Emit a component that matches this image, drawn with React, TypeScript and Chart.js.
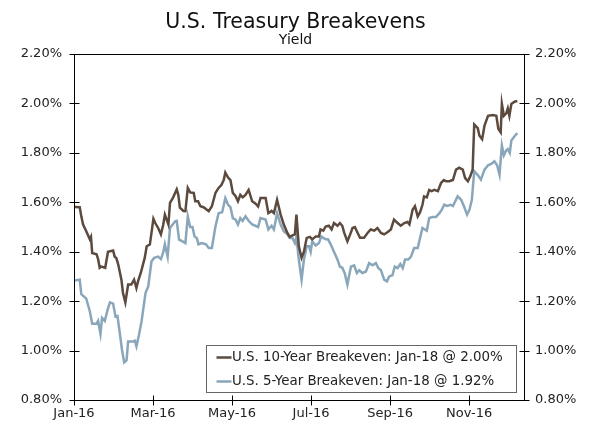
import { useEffect, useRef } from "react";
import { Chart, registerables } from "chart.js";

Chart.register(...registerables);

const chartTitle = "U.S. Treasury Breakevens";
const chartSubtitle = "Yield";
const seriesNames = [
  "U.S. 10-Year Breakeven: Jan-18 @ 2.00%",
  "U.S. 5-Year Breakeven: Jan-18 @ 1.92%",
];
const seriesColors = ["#5b4a3d", "#89a6ba"];

// x positions are months elapsed since Jan-16
const xTickValues = [0, 2, 4, 6, 8, 10];
const xTickLabels = ["Jan-16", "Mar-16", "May-16", "Jul-16", "Sep-16", "Nov-16"];
const yTickValues = [0.8, 1.0, 1.2, 1.4, 1.6, 1.8, 2.0, 2.2];

const tenYearX = [
  0.02, 0.145, 0.185, 0.23, 0.31, 0.4, 0.43, 0.46, 0.57, 0.61, 0.65, 0.69, 0.79, 0.86, 0.99, 1.03, 1.07, 1.12,
  1.2, 1.24, 1.3, 1.37, 1.45, 1.52, 1.58, 1.62, 1.69, 1.79, 1.84, 1.92, 2.01, 2.06, 2.13, 2.2, 2.26, 2.3, 2.39,
  2.43, 2.51, 2.6, 2.64, 2.68, 2.77, 2.82, 2.88, 2.94, 3.03, 3.07, 3.14, 3.2, 3.28, 3.41, 3.49, 3.58, 3.66,
  3.73, 3.79, 3.83, 3.9, 3.96, 4.02, 4.09, 4.15, 4.21, 4.27, 4.34, 4.42, 4.51, 4.59, 4.66, 4.72, 4.85, 4.92,
  5.0, 5.06, 5.14, 5.23, 5.31, 5.4, 5.46, 5.53, 5.59, 5.63, 5.69, 5.76, 5.82, 5.89, 5.97, 6.03, 6.12, 6.2,
  6.24, 6.31, 6.37, 6.45, 6.52, 6.58, 6.67, 6.73, 6.79, 6.84, 6.92, 6.99, 7.05, 7.11, 7.18, 7.24, 7.34, 7.43,
  7.51, 7.6, 7.68, 7.77, 7.85, 7.94, 8.02, 8.1, 8.19, 8.27, 8.36, 8.44, 8.49, 8.57, 8.63, 8.7, 8.76, 8.82,
  8.86, 8.93, 8.99, 9.05, 9.12, 9.21, 9.29, 9.36, 9.42, 9.5, 9.59, 9.67, 9.75, 9.84, 9.9, 9.97, 10.03, 10.09,
  10.13, 10.22, 10.26, 10.33, 10.39, 10.48, 10.6, 10.69, 10.74, 10.8, 10.83, 10.88, 10.94, 10.98, 11.02,
  11.07, 11.15, 11.22,
];
const tenYearY = [
  1.581, 1.58, 1.543, 1.51, 1.483, 1.45, 1.46, 1.395, 1.39, 1.37, 1.335, 1.34, 1.335, 1.4, 1.405, 1.38, 1.375,
  1.348, 1.287, 1.233, 1.195, 1.267, 1.267, 1.287, 1.253, 1.28, 1.314, 1.375, 1.422, 1.429, 1.533, 1.515,
  1.496, 1.47, 1.51, 1.55, 1.51, 1.598, 1.62, 1.652, 1.63, 1.578, 1.565, 1.564, 1.658, 1.64, 1.638, 1.604,
  1.604, 1.584, 1.58, 1.564, 1.584, 1.638, 1.658, 1.67, 1.69, 1.72, 1.7, 1.69, 1.638, 1.625, 1.604, 1.63,
  1.62, 1.63, 1.65, 1.604, 1.595, 1.583, 1.617, 1.617, 1.556, 1.565, 1.556, 1.61, 1.55, 1.51, 1.476, 1.46,
  1.466, 1.47, 1.55, 1.422, 1.375, 1.4, 1.456, 1.46, 1.45, 1.462, 1.462, 1.49, 1.485, 1.502, 1.505, 1.49,
  1.516, 1.505, 1.516, 1.505, 1.476, 1.442, 1.47, 1.496, 1.5, 1.476, 1.456, 1.456, 1.476, 1.49, 1.485, 1.496,
  1.476, 1.47, 1.48, 1.49, 1.53, 1.516, 1.505, 1.516, 1.52, 1.51, 1.57, 1.584, 1.543, 1.56, 1.59, 1.624,
  1.62, 1.65, 1.645, 1.65, 1.645, 1.678, 1.69, 1.685, 1.685, 1.69, 1.732, 1.74, 1.732, 1.698, 1.685, 1.705,
  1.732, 1.915, 1.9, 1.87, 1.855, 1.91, 1.95, 1.953, 1.95, 1.897, 1.883, 1.998, 1.95, 1.96, 1.98, 1.95, 1.998,
  2.007, 2.01,
];

const fiveYearX = [
  0.02, 0.145, 0.185, 0.31, 0.4, 0.46, 0.57, 0.61, 0.67, 0.71, 0.78, 0.85, 0.91, 0.99, 1.05, 1.1, 1.16, 1.22,
  1.27, 1.33, 1.37, 1.5, 1.54, 1.58, 1.64, 1.71, 1.81, 1.88, 1.96, 2.03, 2.13, 2.2, 2.26, 2.3, 2.37, 2.43,
  2.56, 2.6, 2.66, 2.77, 2.82, 2.88, 2.94, 3.0, 3.05, 3.11, 3.15, 3.24, 3.34, 3.41, 3.49, 3.58, 3.66, 3.75,
  3.83, 3.9, 3.96, 4.02, 4.09, 4.15, 4.21, 4.27, 4.34, 4.42, 4.51, 4.59, 4.66, 4.72, 4.85, 4.92, 5.0, 5.06,
  5.14, 5.23, 5.31, 5.4, 5.46, 5.53, 5.59, 5.63, 5.69, 5.76, 5.82, 5.89, 5.95, 5.99, 6.03, 6.12, 6.2, 6.26,
  6.32, 6.37, 6.43, 6.5, 6.58, 6.67, 6.73, 6.79, 6.85, 6.92, 7.01, 7.09, 7.16, 7.22, 7.3, 7.39, 7.47, 7.56,
  7.64, 7.7, 7.77, 7.85, 7.92, 7.98, 8.06, 8.12, 8.19, 8.26, 8.32, 8.38, 8.46, 8.53, 8.61, 8.7, 8.76, 8.82,
  8.88, 8.93, 8.99, 9.08, 9.16, 9.25, 9.31, 9.37, 9.44, 9.53, 9.59, 9.71, 9.8, 9.88, 9.95, 10.01, 10.07,
  10.13, 10.22, 10.3, 10.39, 10.48, 10.56, 10.64, 10.71, 10.77, 10.83, 10.88, 10.94, 10.98, 11.03, 11.07,
  11.15, 11.22,
];
const fiveYearY = [
  1.284, 1.287, 1.228, 1.21, 1.159, 1.109, 1.109, 1.12, 1.068, 1.132, 1.12, 1.165, 1.195, 1.19, 1.138, 1.14,
  1.07, 0.997, 0.952, 0.96, 1.037, 1.037, 1.04, 1.017, 1.06, 1.118, 1.233, 1.26, 1.36, 1.375, 1.38, 1.37,
  1.398, 1.43, 1.38, 1.496, 1.523, 1.525, 1.449, 1.44, 1.435, 1.543, 1.5, 1.5, 1.462, 1.455, 1.43, 1.435,
  1.43, 1.415, 1.415, 1.502, 1.556, 1.56, 1.617, 1.59, 1.58, 1.536, 1.53, 1.51, 1.536, 1.525, 1.543, 1.525,
  1.51, 1.505, 1.5, 1.536, 1.53, 1.49, 1.505, 1.49, 1.556, 1.51, 1.483, 1.47, 1.455, 1.455, 1.435, 1.46,
  1.368, 1.287, 1.368, 1.422, 1.422, 1.4, 1.442, 1.425, 1.435, 1.462, 1.455, 1.45, 1.45, 1.429, 1.4, 1.368,
  1.34, 1.335, 1.314, 1.267, 1.34, 1.345, 1.314, 1.325, 1.314, 1.32, 1.354, 1.345, 1.354, 1.334, 1.325,
  1.287, 1.28, 1.3, 1.305, 1.34, 1.334, 1.35, 1.334, 1.368, 1.368, 1.38, 1.415, 1.415, 1.456, 1.496, 1.49,
  1.485, 1.536, 1.54, 1.54, 1.556, 1.57, 1.59, 1.585, 1.59, 1.585, 1.624, 1.61, 1.58, 1.55, 1.57, 1.61,
  1.726, 1.71, 1.692, 1.732, 1.75, 1.755, 1.766, 1.75, 1.712, 1.83, 1.79, 1.81, 1.815, 1.8, 1.85, 1.867,
  1.88,
];

const xMax = 11.39;
const FONT = '"DejaVu Sans", Verdana, sans-serif';

const toPoints = (xs: number[], ys: number[]) => xs.map((x, i) => ({ x, y: ys[i] }));

const decorPlugin = {
  id: "decor",
  beforeDraw(chart: any) {
    const { ctx, width } = chart;
    ctx.save();
    ctx.fillStyle = "#ffffff";
    ctx.fillRect(0, 0, chart.width, chart.height);
    ctx.fillStyle = "#111111";
    ctx.textAlign = "center";
    ctx.textBaseline = "alphabetic";
    ctx.font = `20.5px ${FONT}`;
    ctx.fillText(chartTitle, width / 2, 28);
    ctx.font = `14px ${FONT}`;
    ctx.fillText(chartSubtitle, width / 2, 44);
    ctx.restore();
  },
  afterDraw(chart: any) {
    const { ctx, chartArea: a, scales } = chart;
    ctx.save();
    ctx.strokeStyle = "#000000";
    ctx.lineWidth = 1;
    const L = Math.round(a.left) + 0.5;
    const R = Math.round(a.right) + 0.5;
    const T = Math.round(a.top) + 0.5;
    const B = Math.round(a.bottom) + 0.5;
    ctx.beginPath();
    ctx.rect(L, T, R - L, B - T);
    // y ticks crossing both vertical axes
    scales.y.ticks.forEach((t: any) => {
      const py = Math.round(scales.y.getPixelForValue(t.value)) + 0.5;
      ctx.moveTo(L - 5, py);
      ctx.lineTo(L + 5, py);
      ctx.moveTo(R - 5, py);
      ctx.lineTo(R + 5, py);
    });
    scales.x.ticks.forEach((t: any) => {
      const px = Math.round(scales.x.getPixelForValue(t.value)) + 0.5;
      ctx.moveTo(px, B - 5);
      ctx.lineTo(px, B + 5);
    });
    ctx.stroke();

    // legend box inside plot
    const bx = 206.5, by = 345.5, bw = 310, bh = 47;
    ctx.fillStyle = "#ffffff";
    ctx.fillRect(bx, by, bw, bh);
    ctx.strokeStyle = "#666666";
    ctx.strokeRect(bx, by, bw, bh);
    ctx.font = `13.4px ${FONT}`;
    ctx.textAlign = "left";
    ctx.textBaseline = "middle";
    seriesNames.forEach((name, i) => {
      const cy = 357.5 + i * 24;
      ctx.strokeStyle = seriesColors[i];
      ctx.lineWidth = 2.5;
      ctx.beginPath();
      ctx.moveTo(216.5, cy);
      ctx.lineTo(231.5, cy);
      ctx.stroke();
      ctx.fillStyle = "#222222";
      ctx.fillText(name, 232, cy + 0.5);
    });
    ctx.restore();
  },
};

export default function App() {
  const canvasRef = useRef<HTMLCanvasElement | null>(null);

  useEffect(() => {
    if (!canvasRef.current) return;
    const tickFont = { family: FONT, size: 13 };
    const yCommon = {
      type: "linear" as const,
      min: 0.8,
      max: 2.2,
      afterBuildTicks: (s: any) => {
        s.ticks = yTickValues.map((v) => ({ value: v }));
      },
      grid: { display: false, drawTicks: false },
      border: { display: false },
      ticks: {
        font: tickFont,
        color: "#222222",
        callback: (v: any) => Number(v).toFixed(2) + "%",
      },
    };
    const chart = new Chart(canvasRef.current, {
      type: "line",
      data: {
        datasets: [
          {
            label: seriesNames[0],
            data: toPoints(tenYearX, tenYearY),
            borderColor: seriesColors[0],
            borderWidth: 2.5,
            pointRadius: 0,
            tension: 0,
            yAxisID: "y",
          },
          {
            label: seriesNames[1],
            data: toPoints(fiveYearX, fiveYearY),
            borderColor: seriesColors[1],
            borderWidth: 2.5,
            pointRadius: 0,
            tension: 0,
            yAxisID: "y",
          },
        ],
      },
      options: {
        responsive: false,
        animation: false,
        events: [],
        layout: { padding: { top: 54, left: 0, right: 0, bottom: 0 } },
        plugins: {
          legend: { display: false },
          title: { display: false },
          tooltip: { enabled: false },
        },
        scales: {
          x: {
            type: "linear",
            min: 0,
            max: xMax,
            afterBuildTicks: (s: any) => {
              s.ticks = xTickValues.map((v) => ({ value: v }));
            },
            afterFit: (s: any) => {
              s.height = 24;
            },
            grid: { display: false, drawTicks: false },
            border: { display: false },
            ticks: {
              font: tickFont,
              color: "#222222",
              padding: 6,
              maxRotation: 0,
              autoSkip: false,
              callback: (v: any) => {
                const idx = xTickValues.indexOf(Number(v));
                return idx >= 0 ? xTickLabels[idx] : "";
              },
            },
          },
          y: {
            ...yCommon,
            position: "left",
            afterFit: (s: any) => {
              s.width = 74;
            },
            ticks: { ...yCommon.ticks, padding: 12 },
          },
          y2: {
            ...yCommon,
            position: "right",
            afterFit: (s: any) => {
              s.width = 591 - 524;
            },
            ticks: { ...yCommon.ticks, padding: 11 },
          },
        },
      } as any,
      plugins: [decorPlugin],
    });
    return () => chart.destroy();
  }, []);

  return (
    <div style={{ position: "fixed", left: 0, top: 0, width: 591, height: 424, background: "#fff" }}>
      <canvas ref={canvasRef} width={591} height={424} style={{ width: 591, height: 424, display: "block" }} />
    </div>
  );
}
